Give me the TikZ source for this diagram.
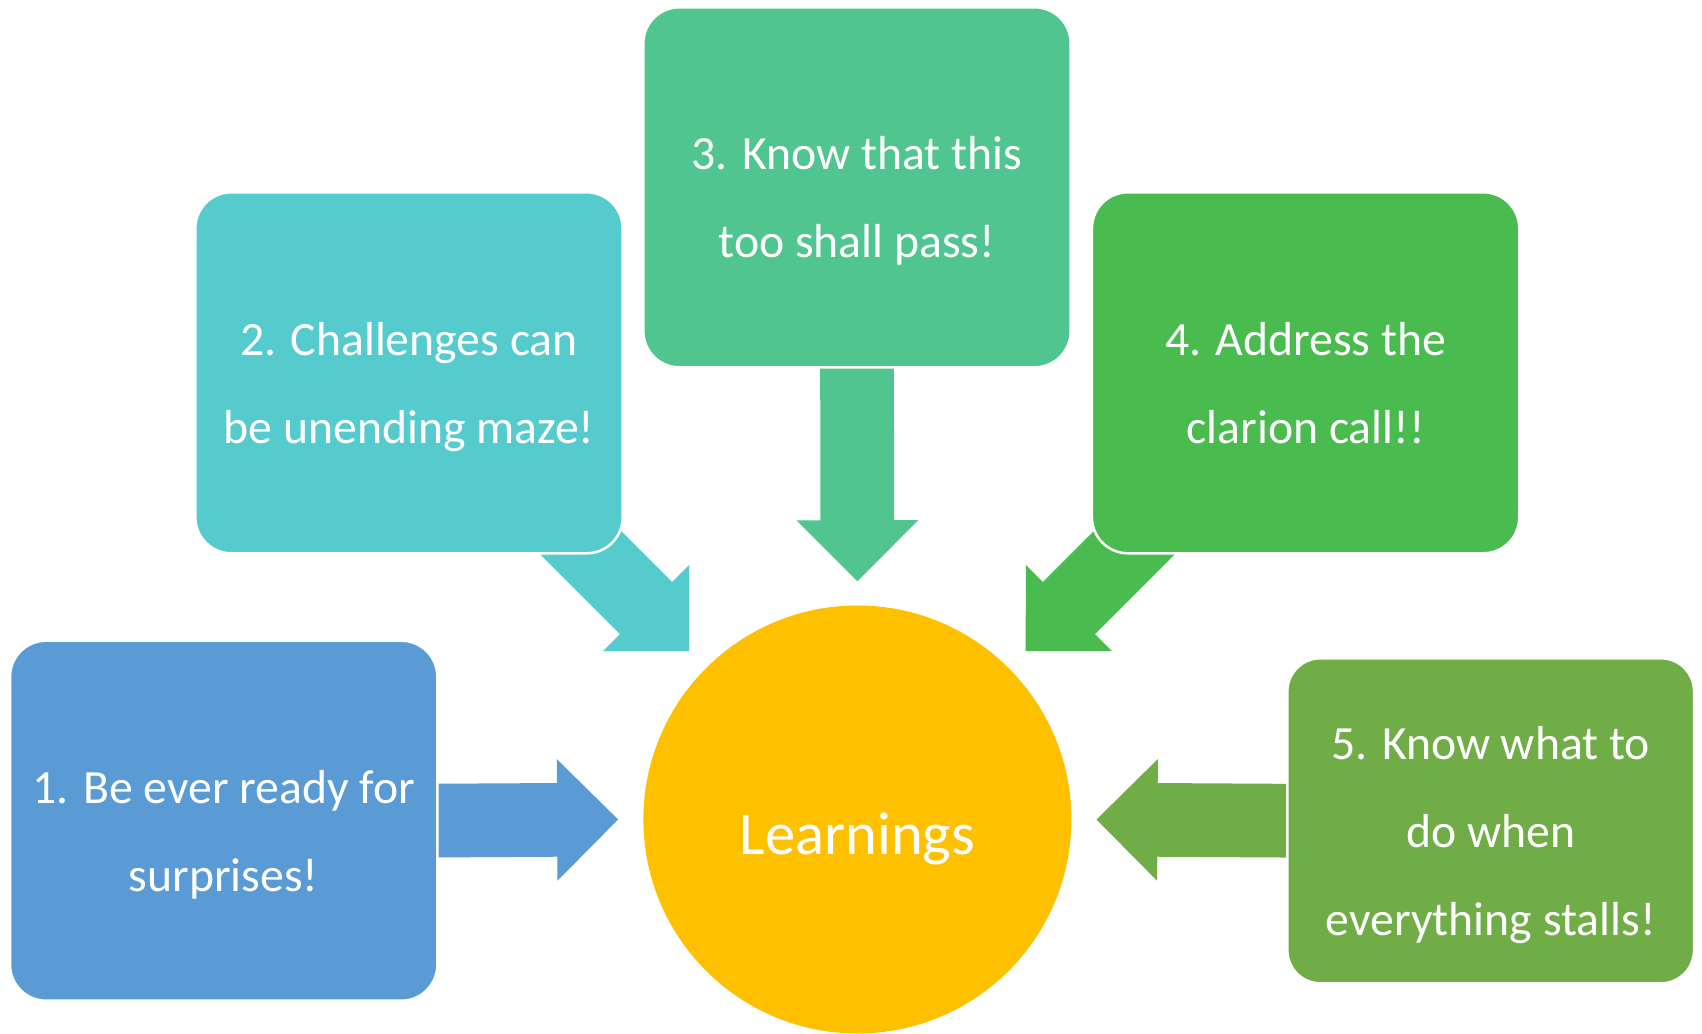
\documentclass[tikz,border=0pt]{standalone}
\usepackage{fontspec}
\setmainfont{Carlito}
\usetikzlibrary{calc}
\definecolor{cA}{HTML}{5B9BD5}
\definecolor{cB}{HTML}{55CBCD}
\definecolor{cC}{HTML}{50C58F}
\definecolor{cD}{HTML}{4ABB4F}
\definecolor{cE}{HTML}{70AD47}
\definecolor{cHub}{HTML}{FFC000}
\pgfdeclarelayer{bg}
\pgfsetlayers{bg,main}
% #1 colour, #2 start coordinate, #3 tip coordinate
\newcommand\blockarrow[3]{%
  \path (#3) coordinate (aT) ($(#3)!61pt!(#2)$) coordinate (aH) (#2) coordinate (aS);
  \fill[#1] ($(aS)!36.85pt!90:(aT)$) -- ($(aH)!36.85pt!90:(aT)$) -- ($(aH)!60.85pt!90:(aT)$)
    -- (aT) -- ($(aH)!60.85pt!-90:(aT)$) -- ($(aH)!36.85pt!-90:(aT)$) -- ($(aS)!36.85pt!-90:(aT)$) -- cycle;}
\begin{document}
\begin{tikzpicture}[x=1pt,y=-1pt,
  card/.style={rectangle,rounded corners=36pt,draw=white,line width=2.5pt,inner sep=0pt,
    minimum width=427.3pt,minimum height=360pt},
  cardtext/.style={text=white,align=center,inner sep=0pt,font=\fontsize{47.7}{88}\selectfont},
  hubstyle/.style={circle,fill=cHub,inner sep=0pt,minimum size=428pt},
  hubtext/.style={text=white,inner sep=0pt,anchor=base,font=\fontsize{60.6}{72}\selectfont}]
\useasboundingbox (0,0) rectangle (1702,1033);

\node[card,fill=cA] (b1) at (223.7,820.7) {};
\node[card,fill=cB,minimum height=361pt] (b2) at (409,372.8) {};
\node[card,fill=cC] (b3) at (857,187.3) {};
\node[card,fill=cD,minimum height=361pt] (b4) at (1305.6,372.8) {};
\node[card,fill=cE,minimum width=406.7pt,minimum height=325pt,rounded corners=33pt] (b5) at (1490.7,820.8) {};
\node[hubstyle] (hub) at (857.4,819.5) {};

\node[cardtext] (t1) at ([yshift=-9pt]b1.center) {\strut 1. Be ever ready for\\\strut surprises!};
\node[cardtext] (t2) at ([yshift=-9pt]b2.center) {\strut 2. Challenges can\\\strut be unending maze!};
\node[cardtext] (t3) at ([yshift=-9pt]b3.center) {\strut 3. Know that this\\\strut too shall pass!};
\node[cardtext] (t4) at ([yshift=-9pt]b4.center) {\strut 4. Address the\\\strut clarion call!!};
\node[cardtext] (t5) at ([yshift=-9pt]b5.center) {\strut 5. Know what to\\\strut do when\\\strut everything stalls!};
\node[hubtext] (ht) at ([yshift=-34.5pt]hub.center) {Learnings};

\begin{pgfonlayer}{bg}
  \fill[white] (0,0) rectangle (1702,1033);
  \coordinate (e1) at ($(hub.west)+(-25.1,0)$);
  \coordinate (s1) at ($(b1.east)+(-20,0)$);
  \blockarrow{cA}{s1}{e1}
  \coordinate (e5) at ($(hub.east)+(24.9,0)$);
  \coordinate (s5) at ($(b5.west)+(20,0)$);
  \blockarrow{cE}{s5}{e5}
  \coordinate (e3) at ($(hub.north)+(0,-24)$);
  \coordinate (s3) at ($(b3.south)+(0,-20)$);
  \blockarrow{cC}{s3}{e3}
  \coordinate (e2) at ($(hub.center)!238pt!(hub.north west)$);
  \coordinate (s2) at ($(e2)+(-150,-150)$);
  \blockarrow{cB}{s2}{e2}
  \coordinate (e4) at ($(hub.center)!238pt!(hub.north east)$);
  \coordinate (s4) at ($(e4)+(150,-150)$);
  \blockarrow{cD}{s4}{e4}
\end{pgfonlayer}
\end{tikzpicture}
\end{document}
